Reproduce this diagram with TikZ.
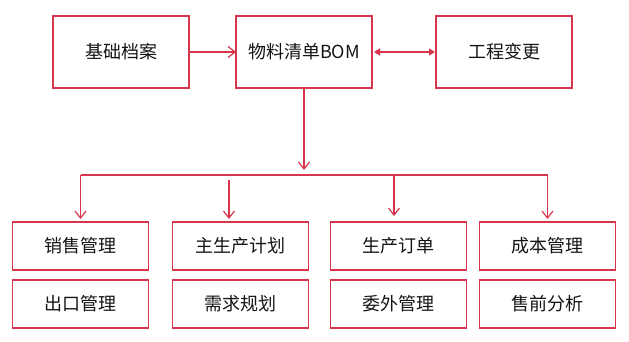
\documentclass[tikz,border=0pt]{standalone}
\usepackage{fontspec}
\setmainfont{Noto Sans CJK SC}
\usepackage{xcolor}
\usepackage{tikz}
\usetikzlibrary{positioning,arrows.meta,calc}
\definecolor{linered}{RGB}{214,54,76}
\definecolor{textblack}{RGB}{20,20,20}

\begin{document}
\begin{tikzpicture}[
      x=1pt, y=-1pt,
      box/.style={draw=linered, line width=1.1pt, rectangle, inner sep=0pt, outer sep=0pt, minimum height=72pt, minimum width=136pt, align=center, text=textblack, font=\fontsize{18pt}{20pt}\selectfont},
      smallbox/.style={box, minimum height=48pt, minimum width=136pt},
      line/.style={draw=linered, line width=1.2pt},
      arr/.style={line, -{Straight Barb[length=7pt,width=11pt]}},
      darr/.style={line, {Triangle[length=6pt,width=7pt]}-{Triangle[length=6pt,width=7pt]}, shorten <=2pt, shorten >=1pt},
    ]
    \useasboundingbox (0,0) rectangle (629,342);
    \node[box] (jichu) at (121,52) {基础档案};
    \node[box, right=47pt of jichu] (bom) {物料清单BOM};
    \node[box, right=64pt of bom] (gongcheng) {工程变更};
    \node[smallbox] (xiaoshou) at (80.5,246) {销售管理};
    \node[smallbox, right=24pt of xiaoshou] (zhusheng) {主生产计划};
    \node[smallbox, right=22pt of zhusheng] (shengchan) {生产订单};
    \node[smallbox, right=13pt of shengchan] (chengben) {成本管理};
    \node[smallbox, below=10pt of xiaoshou] (chukou) {出口管理};
    \node[smallbox, below=10pt of zhusheng] (xuqiu) {需求规划};
    \node[smallbox, below=10pt of shengchan] (weiwai) {委外管理};
    \node[smallbox, below=10pt of chengben] (shouqian) {售前分析};
    \coordinate[below=82pt of bom.south] (bomtip);
    \coordinate[below=5pt of bomtip] (bus);
    \draw[arr] (jichu) -- (bom);
    \draw[darr] (bom) -- (gongcheng);
    \draw[arr] (bom) -- (bomtip);
    \draw[line] (bus -| xiaoshou.north) -- (bus -| chengben.north);
    \draw[arr] (bus -| xiaoshou.north) -- ($(xiaoshou.north)+(0,-3)$);
    \draw[arr] ($(zhusheng.north)+(-11.5,-42)$) -- ($(zhusheng.north)+(-11.5,-3)$);
    \draw[arr] ($(bus -| shengchan.north)+(-4.5,0)$) -- ($(shengchan.north)+(-4.5,-6)$);
    \draw[arr] (bus -| chengben.north) -- ($(chengben.north)+(0,-3)$);
  \end{tikzpicture}
\end{document}
